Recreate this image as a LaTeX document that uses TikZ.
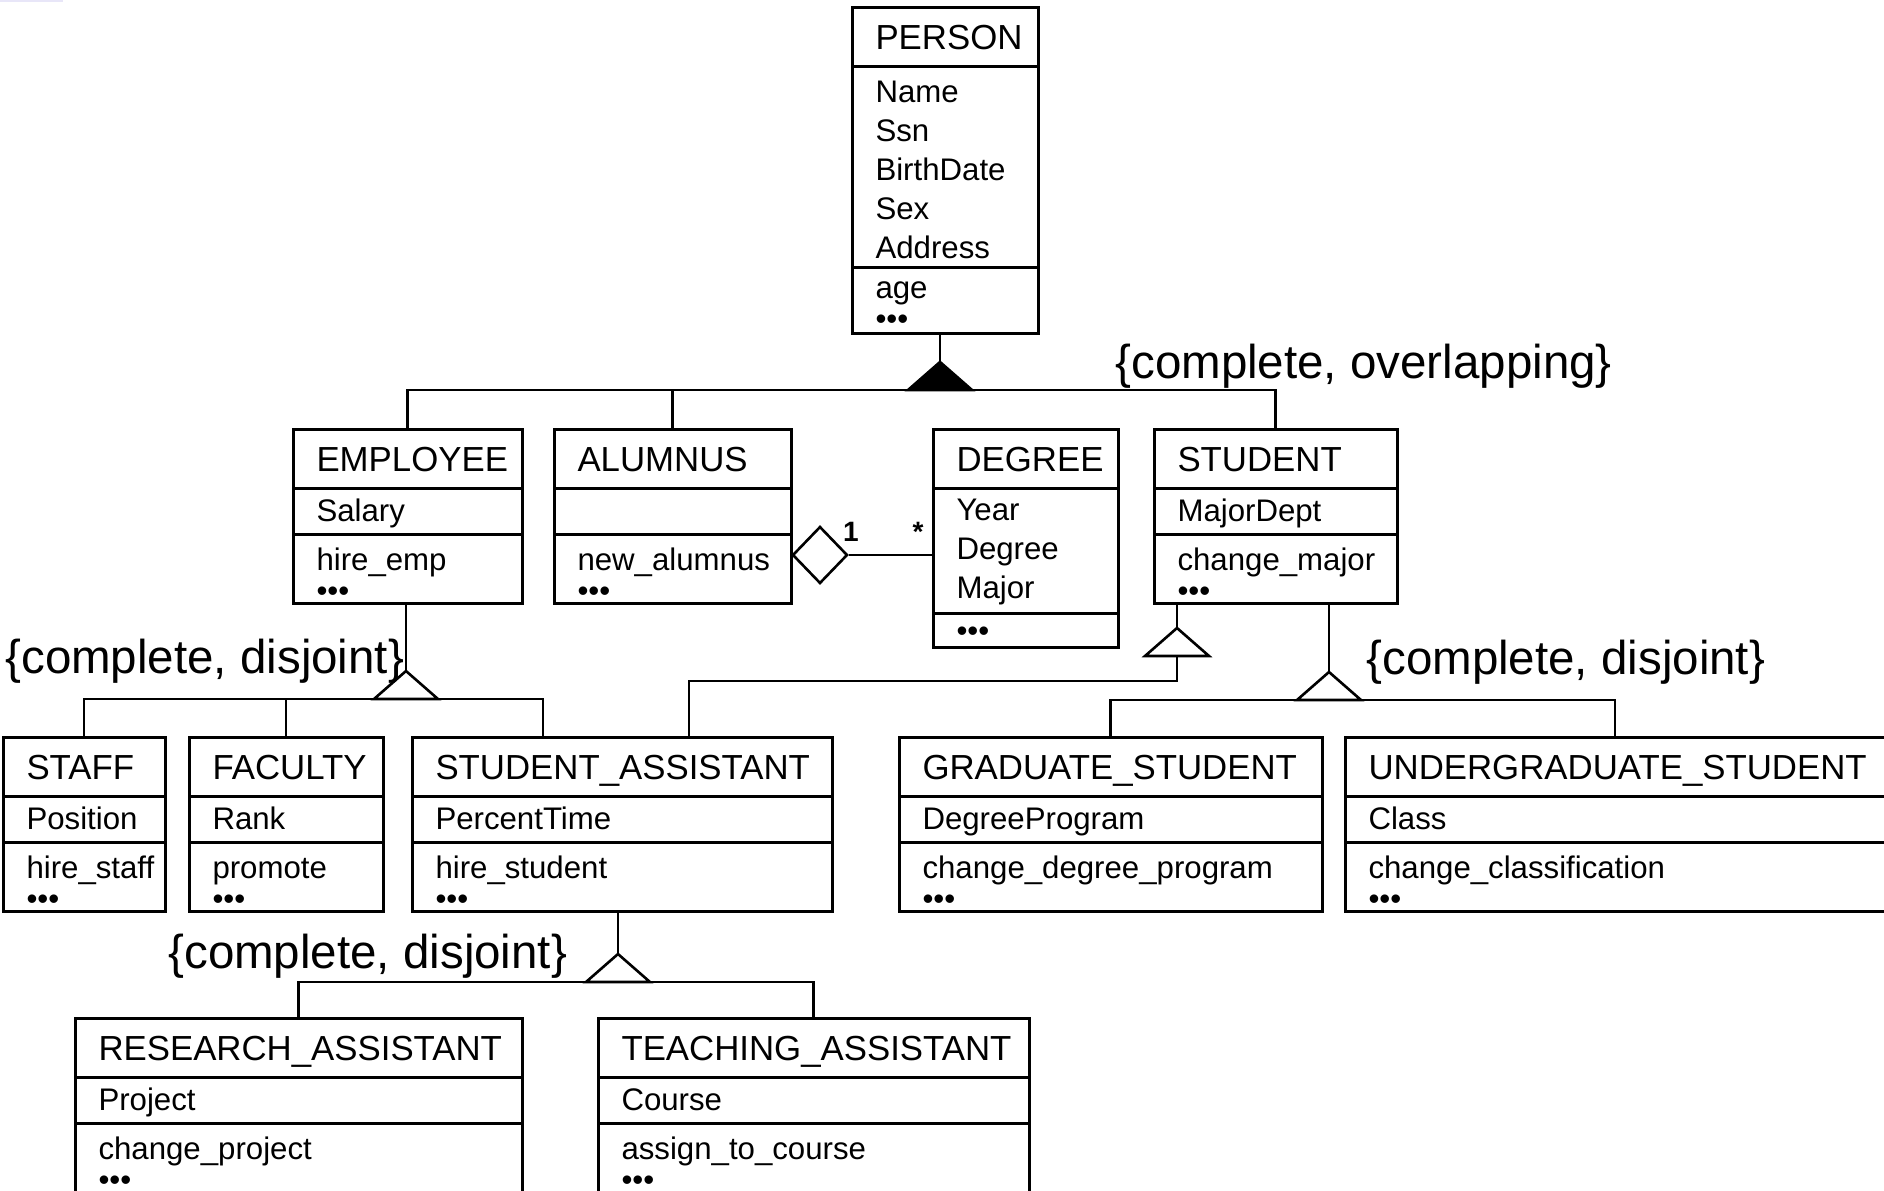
\documentclass[tikz,border=0pt]{standalone}
\usepackage{fontspec}
\setmainfont{Liberation Sans}
\usetikzlibrary{shapes.geometric}
\hyphenpenalty=10000
\definecolor{smear}{HTML}{E8E6F8}

\tikzset{
  box/.style={draw, line width=1.5pt, anchor=north west, inner xsep=11.75pt, inner ysep=0pt, outer sep=0pt, align=flush left},
  hdr/.style={box, font=\fontsize{17.4}{20}\selectfont, text height=21pt, text depth=8.5pt},
  att/.style={box, font=\fontsize{15.6}{19.5}\selectfont, text height=16.5pt, text depth=6.5pt},
  ops/.style={box, font=\fontsize{15.6}{15.25}\selectfont, text height=18.25pt, text depth=16.25pt},
  link/.style={line width=1.3pt},
  gen/.style={link, fill=white},
  agg/.style={diamond, draw, line width=1.3pt, fill=white, inner sep=0pt, minimum width=27.5pt, minimum height=28.5pt},
  note/.style={anchor=west, inner sep=0pt, font=\fontsize{23.75}{28}\selectfont},
  mult/.style={inner sep=0pt, font=\bfseries\fontsize{14}{16}\selectfont},
}

\begin{document}
\begin{tikzpicture}[x=0.5pt, y=-0.5pt]
	\useasboundingbox (0,0) rectangle (1884,1190);
	\clip (0,0) rectangle (1884,1190);
	\fill[white] (0,0) rectangle (1884,1190);
	\fill[smear] (0,0) rectangle (63,2);

	% top class
	\node[hdr, text width=69.5pt] (person) at (852,7) {PERSON};
	\node[att, text width=69.5pt, text height=18pt, text depth=82.5pt] (person-a) at (person.south west) {Name\\Ssn\\BirthDate\\Sex\\Address};
	\node[ops, text width=69.5pt, text height=15.5pt, text depth=17.5pt, font=\fontsize{15.6}{15.75}\selectfont] (person-o) at (person-a.south west) {age\\•••};

	% first row
	\node[hdr, text width=91pt] (emp) at (293,429) {EMPLOYEE};
	\node[att, text width=91pt] (emp-a) at (emp.south west) {Salary};
	\node[ops, text width=91pt] (emp-o) at (emp-a.south west) {hire\_emp\\•••};

	\node[hdr, text width=95pt] (alu) at (554,429) {ALUMNUS};
	\node[att, text width=95pt] (alu-a) at (alu.south west) {};
	\node[ops, text width=95pt] (alu-o) at (alu-a.south west) {new\_alumnus\\•••};

	\node[hdr, text width=69pt] (deg) at (933,429) {DEGREE};
	\node[att, text width=69pt, text height=16pt, text depth=46.5pt] (deg-a) at (deg.south west) {Year\\Degree\\Major};
	\node[ops, text width=69pt, text height=14pt, text depth=3pt] (deg-o) at (deg-a.south west) {•••};

	\node[hdr, text width=98pt] (stu) at (1154,429) {STUDENT};
	\node[att, text width=98pt] (stu-a) at (stu.south west) {MajorDept};
	\node[ops, text width=98pt] (stu-o) at (stu-a.south west) {change\_major\\•••};

	% second row
	\node[hdr, text width=57.5pt] (staff) at (3,737) {STAFF};
	\node[att, text width=57.5pt] (staff-a) at (staff.south west) {Position};
	\node[ops, text width=57.5pt] (staff-o) at (staff-a.south west) {hire\_staff\\•••};

	\node[hdr, text width=73.5pt] (fac) at (189,737) {FACULTY};
	\node[att, text width=73.5pt] (fac-a) at (fac.south west) {Rank};
	\node[ops, text width=73.5pt] (fac-o) at (fac-a.south west) {promote\\•••};

	\node[hdr, text width=186.5pt] (sa) at (412,737) {STUDENT\_ASSISTANT};
	\node[att, text width=186.5pt] (sa-a) at (sa.south west) {PercentTime};
	\node[ops, text width=186.5pt] (sa-o) at (sa-a.south west) {hire\_student\\•••};

	\node[hdr, text width=188pt] (grad) at (899,737) {GRADUATE\_STUDENT};
	\node[att, text width=188pt] (grad-a) at (grad.south west) {DegreeProgram};
	\node[ops, text width=188pt] (grad-o) at (grad-a.south west) {change\_degree\_program\\•••};

	\node[hdr, text width=256.5pt] (ug) at (1345,737) {UNDERGRADUATE\_STUDENT};
	\node[att, text width=256.5pt] (ug-a) at (ug.south west) {Class};
	\node[ops, text width=256.5pt] (ug-o) at (ug-a.south west) {change\_classification\\•••};

	% third row
	\node[hdr, text width=200pt] (ra) at (75,1018) {RESEARCH\_ASSISTANT};
	\node[att, text width=200pt] (ra-a) at (ra.south west) {Project};
	\node[ops, text width=200pt, text depth=30pt] (ra-o) at (ra-a.south west) {change\_project\\•••};

	\node[hdr, text width=192pt] (ta) at (598,1018) {TEACHING\_ASSISTANT};
	\node[att, text width=192pt] (ta-a) at (ta.south west) {Course};
	\node[ops, text width=192pt, text depth=30pt] (ta-o) at (ta-a.south west) {assign\_to\_course\\•••};

	% generalisation points (base centre of each triangle)
	\coordinate (gp) at (940,390);
	\coordinate (ge) at (406,699);
	\coordinate (gs1) at (1177,656);
	\coordinate (gs2) at (1329,700);
	\coordinate (ga) at (618,982);
	\coordinate (sa-e) at (543,737);
	\coordinate (sa-s) at (689,737);
	\coordinate (bend) at (1177,681);
	\coordinate (ug-t) at (1615,737);

	\draw[link] (person-o.south -| gp) -- (gp);
	\draw[link] (emp.north) |- (gp) -| (stu.north);
	\draw[link] (alu.north) -- (alu.north |- gp);
	\draw[link, fill=black] ([xshift=-16pt]gp) -- ([yshift=14pt]gp) -- ([xshift=16pt]gp) -- cycle;

	\draw[link] (emp-o.south -| ge) -- (ge);
	\draw[link] (staff.north) |- (ge) -| (sa-e);
	\draw[link] (fac.north) -- (fac.north |- ge);
	\draw[gen] ([xshift=-16pt]ge) -- ([yshift=14pt]ge) -- ([xshift=16pt]ge) -- cycle;

	\draw[link] (stu-o.south -| gs1) -- (gs1) -- (bend) -| (sa-s);
	\draw[gen] ([xshift=-16pt]gs1) -- ([yshift=14pt]gs1) -- ([xshift=16pt]gs1) -- cycle;

	\draw[link] (stu-o.south -| gs2) -- (gs2);
	\draw[link] (grad.north) |- (gs2) -| (ug-t);
	\draw[gen] ([xshift=-16pt]gs2) -- ([yshift=14pt]gs2) -- ([xshift=16pt]gs2) -- cycle;

	\draw[link] (sa-o.south -| ga) -- (ga);
	\draw[link] (ra.north) |- (ga) -| (ta.north);
	\draw[gen] ([xshift=-16pt]ga) -- ([yshift=14pt]ga) -- ([xshift=16pt]ga) -- cycle;

	% aggregation
	\node[agg] (dia) at (820,555) {};
	\draw[link] (dia.east) -- (dia.east -| deg-a.west);
	\node[mult] (one) at (851,532) {1};
	\node[mult, anchor=base] (many) at (918,541) {*};

	% constraints
	\node[note] (c-over) at (1115,366) {\{complete, overlapping\}};
	\node[note] (c-emp) at (5,661) {\{complete, disjoint\}};
	\node[note] (c-stu) at (1366,662) {\{complete, disjoint\}};
	\node[note] (c-sa) at (168,956) {\{complete, disjoint\}};
\end{tikzpicture}
\end{document}
